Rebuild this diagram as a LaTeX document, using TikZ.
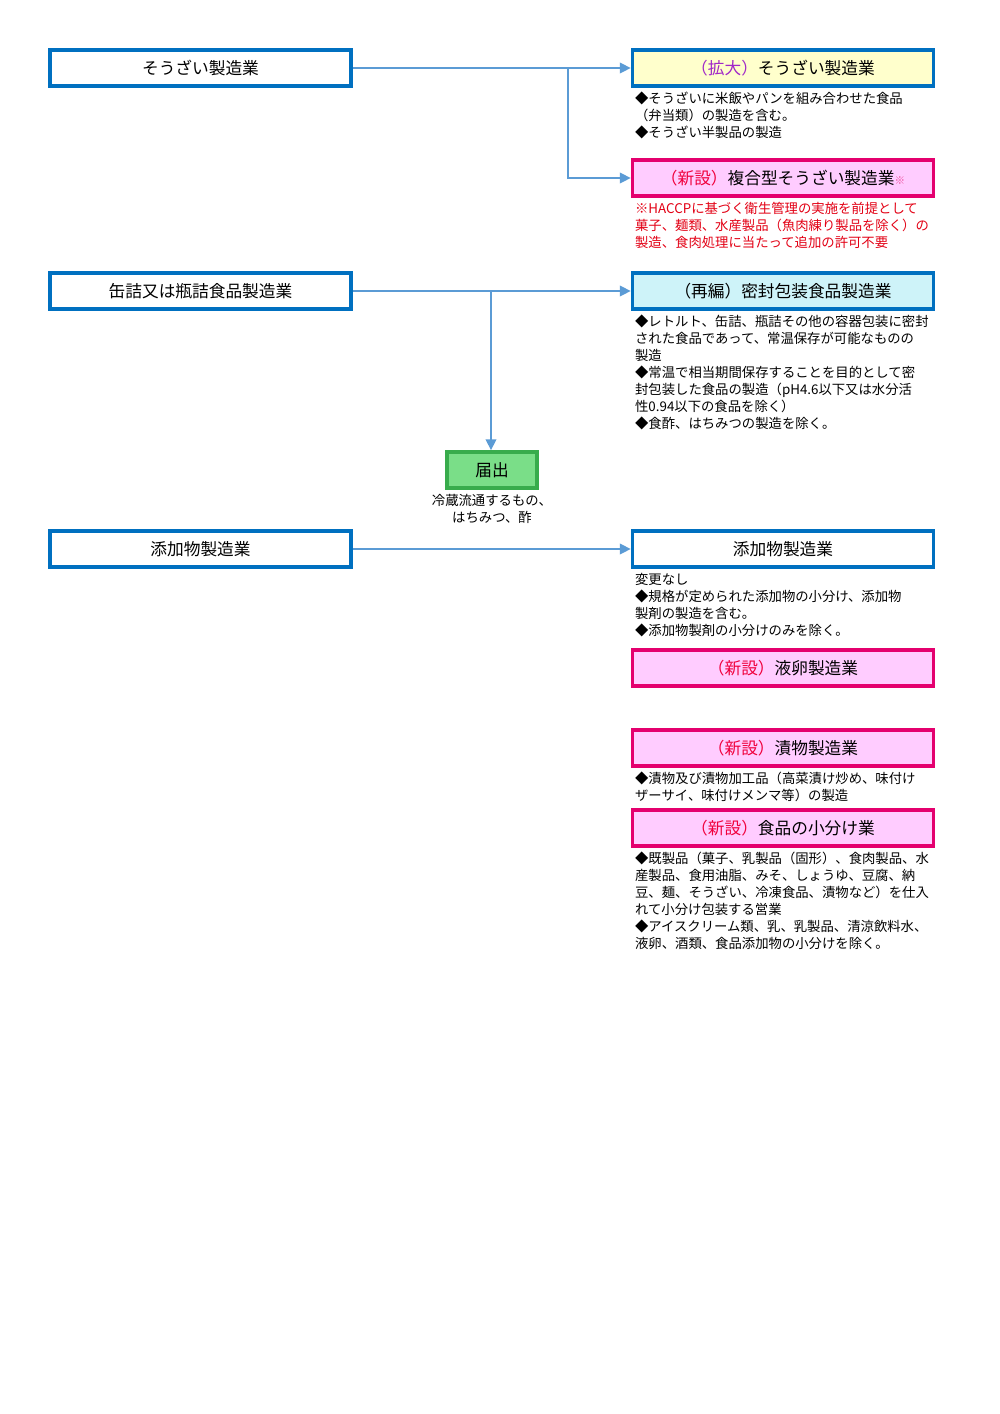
\documentclass[tikz,border=0pt]{standalone}
\usepackage{fontspec}
\setmainfont{Noto Sans CJK JP}
\usepackage{tikz}
\usetikzlibrary{arrows, arrows.meta, positioning, shapes, fit}

\definecolor{boxblue}{RGB}{0,112,192}
\definecolor{newline}{RGB}{228,0,110}
\definecolor{newfill}{RGB}{255,204,255}
\definecolor{yellowfill}{RGB}{255,255,204}
\definecolor{cyanfill}{RGB}{206,243,249}
\definecolor{greenfill}{RGB}{122,222,136}
\definecolor{greenline}{RGB}{56,172,76}
\definecolor{flowblue}{RGB}{91,155,213}
\definecolor{notered}{RGB}{226,0,20}
\definecolor{kakudai}{RGB}{160,40,200}
\definecolor{shinsetsu}{RGB}{240,0,60}

\begin{document}
\begin{tikzpicture}[x=0.02cm, y=-0.02cm, >={Triangle[length=0.22cm, width=0.21cm]},
        box/.style={rectangle, draw=boxblue, line width=2pt, fill=white, minimum width=6.02cm, minimum height=0.72cm, inner sep=0pt, font=\fontsize{9.5}{11}\selectfont},
        newbox/.style={box, draw=newline, fill=newfill},
        todoke/.style={rectangle, draw=greenline, line width=2pt, fill=greenfill, minimum width=1.8cm, minimum height=0.72cm, inner sep=0pt, font=\fontsize{9.5}{11}\selectfont},
        note/.style={inner sep=0pt, align=left, font=\fontsize{7.6}{9.64}\selectfont},
        flow/.style={->, draw=flowblue, line width=1.3pt}
        ]
        \useasboundingbox (0,0) rectangle (1000,1414);

        % Nodes
        \node [box] (sozai) at (200.5,68) {そうざい製造業};
        \node [box] (kanzume) at (200.5,291) {缶詰又は瓶詰食品製造業};
        \node [box] (tenka) at (200.5,549) {添加物製造業};

        \node [box, fill=yellowfill] (sozaiN) at (783,68) {{\color{kakudai}（拡大）}そうざい製造業};
        \node [note, below=0.08cm of sozaiN.south west, anchor=north west, xshift=0.08cm] (sozaiNote)
            {◆そうざいに米飯やパンを組み合わせた食品\\（弁当類）の製造を含む。\\◆そうざい半製品の製造};

        \node [newbox] (fukugo) at (783,178) {{\color{shinsetsu}（新設）}複合型そうざい製造業{\color{newline!70}\fontsize{6}{6}\selectfont ※}};
        \node [note, text=notered, below=0.08cm of fukugo.south west, anchor=north west, xshift=0.08cm] (fukugoNote)
            {※HACCPに基づく衛生管理の実施を前提として\\菓子、麺類、水産製品（魚肉練り製品を除く）の\\製造、食肉処理に当たって追加の許可不要};

        \node [box, fill=cyanfill] (mippu) at (783,291) {（再編）密封包装食品製造業};
        \node [note, below=0.08cm of mippu.south west, anchor=north west, xshift=0.08cm] (mippuNote)
            {◆レトルト、缶詰、瓶詰その他の容器包装に密封\\された食品であって、常温保存が可能なものの\\製造\\◆常温で相当期間保存することを目的として密\\封包装した食品の製造（pH4.6以下又は水分活\\性0.94以下の食品を除く）\\◆食酢、はちみつの製造を除く。};

        \node [todoke] (todokede) at (492,470) {届出};
        \node [note, align=center, below=0.08cm of todokede.south] (todokedeNote)
            {冷蔵流通するもの、\\はちみつ、酢};

        \node [box] (tenkaN) at (783,549) {添加物製造業};
        \node [note, below=0.08cm of tenkaN.south west, anchor=north west, xshift=0.08cm] (tenkaNote)
            {変更なし\\◆規格が定められた添加物の小分け、添加物\\製剤の製造を含む。\\◆添加物製剤の小分けのみを除く。};

        \node [newbox] (ekiran) at (783,668) {{\color{shinsetsu}（新設）}液卵製造業};

        \node [newbox] (tsukemono) at (783,748) {{\color{shinsetsu}（新設）}漬物製造業};
        \node [note, below=0.08cm of tsukemono.south west, anchor=north west, xshift=0.08cm] (tsukemonoNote)
            {◆漬物及び漬物加工品（高菜漬け炒め、味付け\\ザーサイ、味付けメンマ等）の製造};

        \node [newbox] (kowake) at (783,828) {{\color{shinsetsu}（新設）}食品の小分け業};
        \node [note, below=0.08cm of kowake.south west, anchor=north west, xshift=0.08cm] (kowakeNote)
            {◆既製品（菓子、乳製品（固形）、食肉製品、水\\産製品、食用油脂、みそ、しょうゆ、豆腐、納\\豆、麺、そうざい、冷凍食品、漬物など）を仕入\\れて小分け包装する営業\\◆アイスクリーム類、乳、乳製品、清涼飲料水、\\液卵、酒類、食品添加物の小分けを除く。};

        % Edges
        \coordinate (split1) at (568,68);
        \coordinate (split2) at (491,291);

        \draw[flow] (sozai) -- (sozaiN);
        \draw[flow] (split1) |- (fukugo.west);

        \draw[flow] (kanzume) -- (mippu);
        \draw[flow] (split2) -- (todokede.north -| split2);

        \draw[flow] (tenka) -- (tenkaN);

    \end{tikzpicture}
\end{document}
